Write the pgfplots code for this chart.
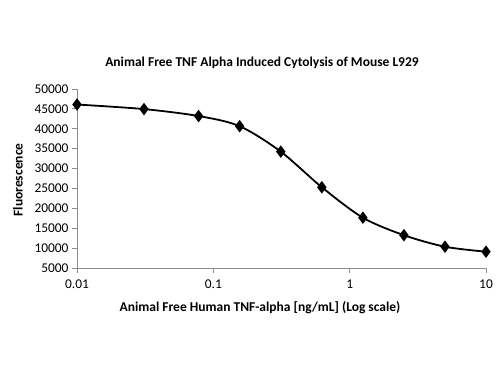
\documentclass[border=0pt]{standalone}
\usepackage{fontspec}
\setmainfont{Carlito}
\usepackage{pgfplots}
\pgfplotsset{compat=1.18}
\begin{document}
\begin{tikzpicture}[x=1pt,y=1pt]
\path[use as bounding box] (0,0) rectangle (500,375);
\begin{axis}[
  at={(77pt,107pt)}, anchor=south west,
  scale only axis, width=409pt, height=179pt,
  xmode=log, xmin=0.01, xmax=10, ymin=5000, ymax=50000,
  xtick={0.01,0.1,1,10}, xticklabels={0.01,0.1,1,10},
  xminorticks=false,
  ytick={5000,10000,15000,20000,25000,30000,35000,40000,45000,50000},
  scaled y ticks=false,
  y tick label style={/pgf/number format/fixed,/pgf/number format/1000 sep={}},
  /pgf/number format/assume math mode=true,
  axis x line=bottom, axis y line=left,
  axis line style={-, draw=black!45, line width=0.8pt},
  tick style={draw=black!45, line width=0.8pt},
  tick align=outside, major tick length=5pt,
  tick label style={font=\fontsize{13.4}{15}\selectfont},
  xticklabel style={yshift=-3pt},
  clip=false,
]
\addplot[black, line width=1.8pt, smooth, mark=diamond*, mark size=4.8pt, mark options={solid}] coordinates {
(0.01,46100) (0.031,44950) (0.078,43200) (0.156,40650) (0.3125,34250) (0.625,25300) (1.25,17650) (2.5,13250) (5,10350) (10,9100)
};
\end{axis}
\node[font=\bfseries\fontsize{13.5}{15}\selectfont] at (262,312) {Animal Free TNF Alpha Induced Cytolysis of Mouse L929};
\node[font=\bfseries\fontsize{13.5}{15}\selectfont] at (260,67) {Animal Free Human TNF-alpha [ng/mL] (Log scale)};
\node[font=\bfseries\fontsize{13.5}{15}\selectfont, rotate=90] at (18,195) {Fluorescence};
\end{tikzpicture}
\end{document}
